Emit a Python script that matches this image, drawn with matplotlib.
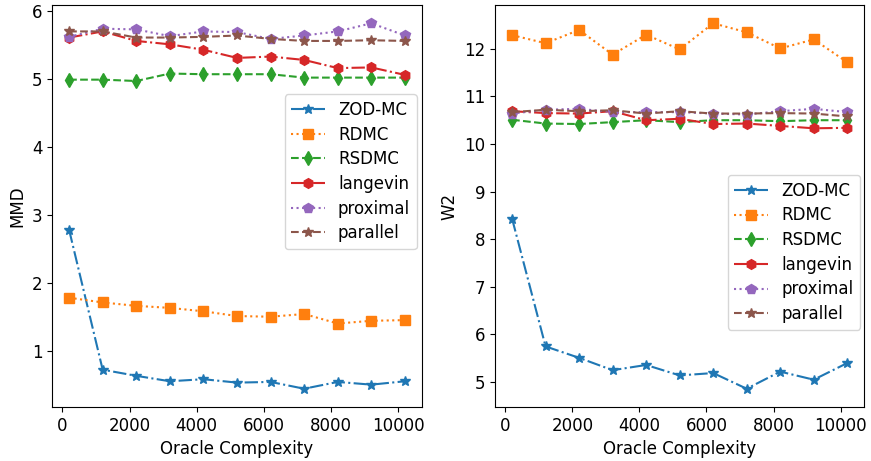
import matplotlib
matplotlib.use('Agg')
import matplotlib.pyplot as plt
import numpy as np

oracle = [200, 1200, 2200, 3200, 4200, 5200, 6200, 7200, 8200, 9200, 10200]
methods = ['ZOD-MC', 'RDMC', 'RSDMC', 'langevin', 'proximal', 'parallel']

mmd_zodmc = [2.78, 0.72, 0.63, 0.55, 0.58, 0.53, 0.54, 0.44, 0.54, 0.50, 0.55]
mmd_rdmc = [1.78, 1.71, 1.66, 1.63, 1.58, 1.51, 1.50, 1.54, 1.40, 1.44, 1.45]
mmd_rsdmc = [4.99, 4.99, 4.97, 5.08, 5.07, 5.07, 5.07, 5.02, 5.02, 5.02, 5.02]
mmd_langevin = [5.61, 5.70, 5.56, 5.51, 5.43, 5.31, 5.33, 5.28, 5.16, 5.17, 5.06]
mmd_proximal = [5.62, 5.74, 5.73, 5.63, 5.70, 5.69, 5.59, 5.64, 5.70, 5.82, 5.64]
mmd_parallel = [5.70, 5.70, 5.61, 5.61, 5.62, 5.64, 5.59, 5.56, 5.56, 5.57, 5.56]

w2_zodmc = [8.43, 5.74, 5.50, 5.24, 5.35, 5.13, 5.18, 4.85, 5.21, 5.04, 5.39]
w2_rdmc = [12.29, 12.12, 12.40, 11.88, 12.30, 11.99, 12.54, 12.35, 12.01, 12.20, 11.72]
w2_rsdmc = [10.51, 10.43, 10.42, 10.46, 10.50, 10.46, 10.50, 10.50, 10.48, 10.50, 10.50]
w2_langevin = [10.69, 10.65, 10.64, 10.69, 10.50, 10.53, 10.42, 10.43, 10.38, 10.33, 10.34]
w2_proximal = [10.64, 10.72, 10.74, 10.67, 10.67, 10.67, 10.64, 10.62, 10.69, 10.74, 10.67]
w2_parallel = [10.67, 10.72, 10.69, 10.71, 10.64, 10.69, 10.64, 10.64, 10.65, 10.64, 10.58]

styles = [('*', '-.'), ('s', ':'), ('d', '--'), ('h', '-.'), ('p', ':'), ('*', '--')]


def plot_panel(ax, series, ylabel, anchor):
    for i, values in enumerate(series):
        marker, ls = styles[i]
        ax.plot(oracle, values, marker=marker, markersize=7, linestyle=ls,
                color=f'C{i}', label=methods[i])
    ax.set_xlabel('Oracle Complexity')
    ax.set_ylabel(ylabel)
    ax.legend(loc='upper right', bbox_to_anchor=anchor, borderaxespad=0, labelspacing=0.4)


def main():
    plt.rcParams['font.size'] = 12
    fig = plt.figure(figsize=(8.71, 4.61), dpi=100)
    ax1 = fig.add_axes([52.3 / 871, 54 / 461, 369.4 / 871, 402 / 461])
    ax2 = fig.add_axes([495.3 / 871, 54 / 461, 368.7 / 871, 402 / 461])

    plot_panel(ax1, [mmd_zodmc, mmd_rdmc, mmd_rsdmc, mmd_langevin, mmd_proximal, mmd_parallel],
               'MMD', (0.9865, 0.778))
    plot_panel(ax2, [w2_zodmc, w2_rdmc, w2_rsdmc, w2_langevin, w2_proximal, w2_parallel],
               'W2', (0.989, 0.577))

    plt.savefig('out.png', dpi=100)
    plt.close()


if __name__ == '__main__':
    main()
